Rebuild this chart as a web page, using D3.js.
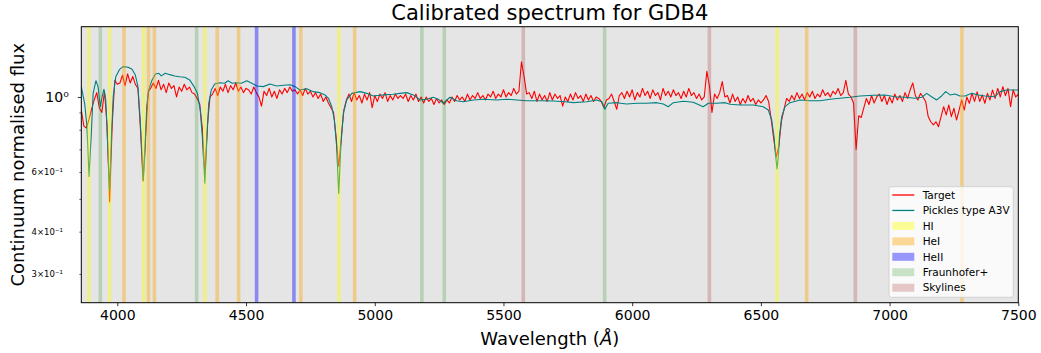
<!DOCTYPE html>
<html><head><meta charset="utf-8">
<script src="https://cdn.jsdelivr.net/npm/d3@7"></script>
<style>body{margin:0;background:#fff;} svg{display:block;font-family:"DejaVu Sans",sans-serif;}</style>
</head><body><svg id="c" width="1041" height="353"></svg>
<script>
const chartTitle = "Calibrated spectrum for GDB4";
const xLabel = "Wavelength (";
const yLabel = "Continuum normalised flux";
const xTicks = [4000,4500,5000,5500,6000,6500,7000,7500];
const yMajorTicks = [1];
const yMajorLabels = ["10⁰"];
const yMinorTicks = [0.3,0.4,0.5,0.6,0.7,0.8,0.9];
const yMinorLabels = ["3×10⁻¹","4×10⁻¹","","6×10⁻¹","","",""];

// Target spectrum, sampled every 10 Å from 3860 Å
const targetStart = 3860, targetStep = 10;
const targetFlux = [
0.915,0.82,0.81,0.86,0.92,0.98,1.03,0.93,0.90,1.04,
0.83,0.49,0.83,1.12,1.09,1.10,1.16,1.08,1.17,1.10,
1.15,1.09,1.06,0.80,0.565,0.78,1.035,1.063,1.10,1.06,
1.12,1.05,1.09,1.03,1.10,1.06,1.08,1.00,1.07,1.04,
1.09,1.05,1.07,1.03,1.02,0.99,0.954,0.81,0.59,0.827,
1.00,1.02,1.06,1.01,1.07,1.04,1.09,1.03,1.08,1.05,
1.10,1.04,1.07,1.03,1.06,1.05,1.02,1.07,1.03,1.00,
0.94,1.04,1.01,1.06,1.00,1.04,0.99,1.05,1.02,1.06,
1.03,1.07,1.04,1.05,1.02,1.05,1.01,1.06,1.02,1.04,
1.00,1.03,0.99,1.02,0.97,1.00,0.96,0.93,0.90,0.76,
0.623,0.76,0.915,0.98,1.02,0.97,1.03,0.98,1.01,0.96,
1.02,0.98,1.03,0.93,1.01,0.97,1.02,0.99,1.03,0.97,
1.01,0.98,1.02,0.99,1.01,0.99,1.02,0.97,1.01,0.98,
1.02,0.97,1.00,0.96,1.00,0.97,0.99,0.95,0.99,0.96,
0.98,0.95,0.98,0.96,1.00,0.97,1.01,0.98,1.00,0.97,
1.02,0.98,1.01,0.99,1.03,0.99,1.01,0.98,1.02,1.00,
1.04,0.99,1.02,1.00,1.05,1.00,1.03,1.01,1.06,1.02,
1.04,1.27,1.15,1.02,1.03,0.99,1.04,0.97,1.02,0.98,
1.01,0.97,1.03,0.98,1.02,0.99,1.01,0.94,1.00,0.97,
1.02,0.98,1.03,0.99,1.01,0.97,1.02,0.98,1.01,0.97,
1.00,0.99,0.97,0.93,0.98,0.99,1.02,0.97,0.92,1.01,
1.03,0.99,1.04,1.00,1.05,0.98,1.03,1.00,1.06,1.01,
1.04,0.99,1.05,1.01,1.03,0.98,1.06,1.01,1.04,1.00,
1.05,1.01,1.03,0.99,1.04,1.00,1.06,1.01,1.03,0.99,
1.02,0.98,1.00,1.19,1.08,0.90,1.02,0.99,1.03,1.11,
1.00,1.01,0.96,1.02,0.97,1.00,0.95,0.99,0.96,1.01,
0.97,0.99,0.95,0.98,0.96,0.98,1.01,0.97,0.86,0.75,
0.665,0.72,0.85,0.92,0.99,0.97,1.01,0.98,1.03,0.99,
1.02,0.98,1.03,1.00,1.04,0.99,1.02,1.00,1.05,1.01,
1.03,1.00,1.04,1.02,1.06,1.01,1.03,1.12,1.02,1.00,
0.96,0.70,0.88,0.87,0.93,0.99,0.95,1.01,0.96,1.00,
1.02,0.97,1.01,0.95,1.00,0.96,1.02,0.98,1.01,0.97,
1.03,0.99,1.05,1.10,1.01,0.98,1.025,1.00,0.97,0.875,
0.845,0.827,0.845,0.817,0.875,0.936,0.885,0.947,0.875,0.926,
0.855,0.915,0.98,0.915,1.00,0.958,1.025,0.97,1.036,0.97,
1.014,0.958,1.025,0.98,1.049,0.99,1.06,1.00,1.073,1.01,
1.06,0.936,1.05,1.00,1.02];

// Pickles A3V template
const modelWave = [3860,3873,3882,3890,3899,3906,3917,3925,3934,3941,
3948,3955,3961,3970,3977,3984,3994,4009,4022,4042,
4057,4070,4080,4088,4095,4101,4108,4114,4122,4135,
4148,4161,4171,4186,4204,4223,4242,4262,4281,4298,
4311,4322,4330,4340,4347,4355,4365,4378,4398,4417,
4430,4446,4462,4482,4503,4528,4542,4567,4593,4619,
4645,4671,4690,4710,4736,4761,4787,4807,4820,4833,
4843,4852,4860,4868,4878,4891,4911,4943,4969,4994,
5020,5046,5072,5098,5124,5150,5176,5202,5227,5247,
5266,5292,5318,5344,5383,5422,5474,5513,5551,5590,
5642,5694,5739,5771,5823,5862,5882,5894,5907,5940,
5979,6018,6056,6095,6121,6140,6160,6199,6237,6276,
6296,6328,6361,6380,6419,6471,6509,6529,6542,6551,
6557,6563,6568,6572,6581,6594,6613,6652,6691,6730,
6768,6807,6846,6885,6937,6982,7021,7060,7099,7125,
7144,7163,7183,7202,7218,7235,7254,7273,7293,7319,
7345,7371,7409,7429,7455,7500];
const modelFlux = [1.073,0.958,0.817,0.582,0.781,1.025,1.117,1.073,0.936,1.002,
1.054,0.98,0.764,0.531,0.764,1.002,1.148,1.207,1.229,1.224,
1.207,1.161,1.073,0.875,0.697,0.568,0.697,0.936,1.049,1.123,
1.169,1.175,1.154,1.175,1.164,1.154,1.148,1.143,1.123,1.073,
1.025,0.915,0.764,0.556,0.730,0.958,1.049,1.092,1.102,1.098,
1.117,1.098,1.102,1.098,1.117,1.092,1.078,1.073,1.092,1.078,
1.083,1.087,1.073,1.049,1.058,1.037,1.03,1.014,0.991,0.936,
0.855,0.713,0.519,0.713,0.895,0.98,1.025,1.037,1.025,1.007,
1.012,1.016,1.019,1.025,1.03,1.014,0.98,0.985,0.998,0.985,
0.958,0.998,0.975,0.968,0.98,0.985,0.98,0.985,0.98,0.975,
0.975,0.973,0.968,0.962,0.968,0.98,0.968,0.92,0.958,0.962,
0.953,0.958,0.958,0.962,0.953,0.936,0.962,0.971,0.965,0.936,
0.958,0.958,0.962,0.952,0.947,0.947,0.936,0.915,0.855,0.764,
0.674,0.613,0.674,0.764,0.875,0.936,0.962,0.98,0.975,0.975,
0.985,0.991,0.998,1.007,1.012,1.014,1.002,0.998,0.991,0.998,
1.025,1.002,0.98,1.007,1.037,1.014,1.021,1.007,1.007,1.025,
1.014,1.007,1.002,1.037,1.049,1.049];

// Line bands (Å)
const bandHI = [3889,3970,4102,4340,4861,6563];
const bandHeI = [4026,4121,4144,4388,4471,4713,4922,6678,7281];
const bandHeII = [4541,4686];
const bandFraunhofer = [3934,4308,5183,5270,5893];
const bandSky = [5577,6300,6867];
const legendLabels = ["Target","Pickles type A3V","HI","HeI","HeII","Fraunhofer+","Skylines"];

const W = 1041, H = 353;
const m = {l:81.3, r:1041-1018.3, t:26.7, b:353-302.7};
const svg = d3.select("#c");
const x = d3.scaleLinear().domain([3860,7500]).range([m.l, W-m.r]);
const y = d3.scaleLog().domain([0.2467,1.613]).range([H-m.b, m.t]);

svg.append("rect").attr("x",m.l).attr("y",m.t).attr("width",W-m.l-m.r).attr("height",H-m.t-m.b).attr("fill","#e5e5e5");
svg.append("clipPath").attr("id","clip").append("rect").attr("x",m.l).attr("y",m.t).attr("width",W-m.l-m.r).attr("height",H-m.t-m.b);
const plot = svg.append("g").attr("clip-path","url(#clip)");

const target = targetFlux.map((f,i)=>[targetStart+i*targetStep,f]);
const model = d3.zip(modelWave, modelFlux);
const line = d3.line().x(d=>x(d[0])).y(d=>y(d[1]));
plot.append("path").datum(target).attr("d",line).attr("fill","none").attr("stroke","#ff0000").attr("stroke-width",1.1).attr("stroke-linejoin","round");
plot.append("path").datum(model).attr("d",line).attr("fill","none").attr("stroke","#008080").attr("stroke-width",1.1).attr("stroke-linejoin","round");

const bandSets = [
 {data:bandHI, color:"#ffff00", op:0.4},
 {data:bandHeI, color:"#ffa500", op:0.4},
 {data:bandHeII, color:"#0000ff", op:0.4},
 {data:bandFraunhofer, color:"#008000", op:0.2},
 {data:bandSky, color:"#a52a2a", op:0.25}
];
const hw = 7;
bandSets.forEach(s=>{
  plot.selectAll(null).data(s.data).enter().append("rect")
    .attr("x",d=>x(d-hw)).attr("width",d=>x(d+hw)-x(d-hw))
    .attr("y",m.t).attr("height",H-m.t-m.b)
    .attr("fill",s.color).attr("fill-opacity",s.op);
});

// axes
const xAxis = svg.append("g").attr("transform",`translate(0,${H-m.b})`)
  .call(d3.axisBottom(x).tickValues(xTicks).tickFormat(d3.format("d")).tickSize(3.5).tickPadding(3.5));
xAxis.select(".domain").remove();
xAxis.selectAll("text").attr("font-size",14).attr("font-family","DejaVu Sans").attr("fill","#000");
xAxis.selectAll("line").attr("stroke","#000").attr("stroke-width",0.8);

const yAxisMaj = svg.append("g").attr("transform",`translate(${m.l},0)`)
  .call(d3.axisLeft(y).tickValues(yMajorTicks).tickFormat((d,i)=>yMajorLabels[i]).tickSize(3.5).tickPadding(9));
yAxisMaj.select(".domain").remove();
yAxisMaj.selectAll("text").attr("font-size",14).attr("font-family","DejaVu Sans").attr("fill","#000");
yAxisMaj.selectAll("line").attr("stroke","#000").attr("stroke-width",0.8);

const yAxisMin = svg.append("g").attr("transform",`translate(${m.l},0)`)
  .call(d3.axisLeft(y).tickValues(yMinorTicks).tickFormat((d,i)=>yMinorLabels[i]).tickSize(2).tickPadding(16.5));
yAxisMin.select(".domain").remove();
yAxisMin.selectAll("text").attr("font-size",8.5).attr("font-family","DejaVu Sans").attr("fill","#000");
yAxisMin.selectAll("line").attr("stroke","#000").attr("stroke-width",0.6);

// spines
svg.append("rect").attr("x",m.l).attr("y",m.t).attr("width",W-m.l-m.r).attr("height",H-m.t-m.b)
  .attr("fill","none").attr("stroke","#000").attr("stroke-width",1);

// titles
svg.append("text").attr("x",(m.l+W-m.r)/2).attr("y",20).attr("text-anchor","middle").attr("font-size",21).text(chartTitle);
const xl = svg.append("text").attr("x",(m.l+W-m.r)/2).attr("y",345).attr("text-anchor","middle").attr("font-size",18);
xl.append("tspan").text(xLabel);
xl.append("tspan").attr("font-style","italic").text("Å");
xl.append("tspan").text(")");
svg.append("text").attr("transform",`translate(24,${(m.t+H-m.b)/2}) rotate(-90)`).attr("text-anchor","middle").attr("font-size",18).text(yLabel);

// legend
const lg = svg.append("g");
lg.append("rect").attr("x",889).attr("y",186.7).attr("width",124.3).attr("height",110.6).attr("rx",2.5)
  .attr("fill","#fff").attr("fill-opacity",0.8).attr("stroke","#cccccc").attr("stroke-width",0.8);
const legendStyle = [
 {type:"line", color:"#ff0000"},
 {type:"line", color:"#008080"},
 {type:"patch", color:"#ffff00", op:0.4},
 {type:"patch", color:"#ffa500", op:0.4},
 {type:"patch", color:"#0000ff", op:0.4},
 {type:"patch", color:"#008000", op:0.2},
 {type:"patch", color:"#a52a2a", op:0.25}
];
legendLabels.forEach((lab,i)=>{
  const cy = 195 + i*15.45;
  const st = legendStyle[i];
  if(st.type==="line"){
    lg.append("line").attr("x1",892.3).attr("x2",914.3).attr("y1",cy).attr("y2",cy).attr("stroke",st.color).attr("stroke-width",1.3);
  } else {
    lg.append("rect").attr("x",892.3).attr("y",cy-4).attr("width",22).attr("height",8).attr("fill",st.color).attr("fill-opacity",st.op);
  }
  lg.append("text").attr("x",922.7).attr("y",cy).attr("dy","0.36em").attr("font-size",10.5).text(lab);
});
</script></body></html>
